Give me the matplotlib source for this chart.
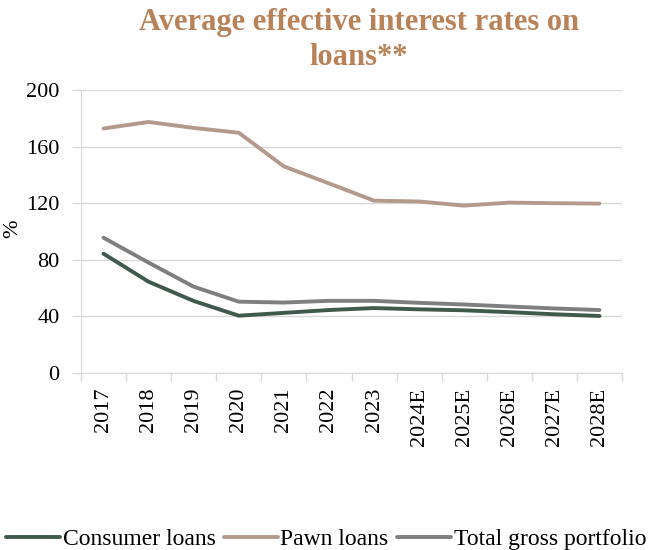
import matplotlib
matplotlib.use("Agg")
import matplotlib.pyplot as plt
from matplotlib.ticker import FixedLocator, NullFormatter

categories = ["2017", "2018", "2019", "2020", "2021", "2022", "2023",
              "2024E", "2025E", "2026E", "2027E", "2028E"]
consumer_loans = [84.3, 64.5, 50.9, 40.5, 42.5, 44.5, 45.9, 45.0, 44.3, 43.0, 41.5, 40.3]
pawn_loans = [172.8, 177.4, 173.2, 169.8, 146.0, 134.0, 121.8, 121.2, 118.3, 120.4, 120.0, 119.7]
total_gross = [95.6, 78.0, 61.0, 50.4, 49.8, 51.0, 51.0, 49.6, 48.4, 47.0, 45.6, 44.5]
yticks = [0, 40, 80, 120, 160, 200]

plt.rcParams['font.family'] = ['Liberation Serif', 'DejaVu Serif']

fig = plt.figure(figsize=(6.64, 5.5), dpi=100)
ax = fig.add_axes([81/664, 1-373/550, (622-81)/664, (373-90)/550])

x = list(range(len(categories)))
ax.plot(x, consumer_loans, color='#3F5A4C', lw=2.8, label='Consumer loans', solid_capstyle='round')
ax.plot(x, pawn_loans, color='#B39A8C', lw=2.8, label='Pawn loans', solid_capstyle='round')
ax.plot(x, total_gross, color='#7F7F7F', lw=2.8, label='Total gross portfolio', solid_capstyle='round')

ax.set_xlim(-0.5, len(categories)-0.5)
ax.set_ylim(0, 200)
ax.set_yticks(yticks)
ax.set_yticklabels([str(v) for v in yticks], fontsize=16)
ax.grid(axis='y', color='#D9D9D9', lw=1)
ax.set_axisbelow(True)
ax.tick_params(axis='y', length=6.5, color='#D9D9D9', width=1, pad=9)

ax.set_xticks(x)
ax.set_xticklabels(categories, rotation=90, fontsize=16)
ax.tick_params(axis='x', which='major', length=0, pad=10.5)
ax.xaxis.set_minor_locator(FixedLocator([i-0.5 for i in range(len(categories)+1)]))
ax.xaxis.set_minor_formatter(NullFormatter())
ax.tick_params(axis='x', which='minor', length=5.5, color='#D9D9D9', width=1)

for s in ['top', 'right']:
    ax.spines[s].set_visible(False)
ax.spines['left'].set_color('#D9D9D9')
ax.spines['bottom'].set_color('#D9D9D9')

fig.text(13/664, 1-229/550, '%', rotation=90, ha='center', va='center', fontsize=16)

title_kw = dict(ha='center', va='baseline', fontsize=22, fontweight='bold', color='#B9835A')
fig.text(359/664, 1-30/550, 'Average effective interest rates on', **title_kw)
fig.text(359/664, 1-65/550, 'loans**', **title_kw)

fig.legend(loc='center', bbox_to_anchor=(0.491, 1-539/550), ncol=3, frameon=False,
           fontsize=17, handlelength=2.3, handletextpad=0.1, columnspacing=0.35)

fig.savefig('out.png', dpi=100)
